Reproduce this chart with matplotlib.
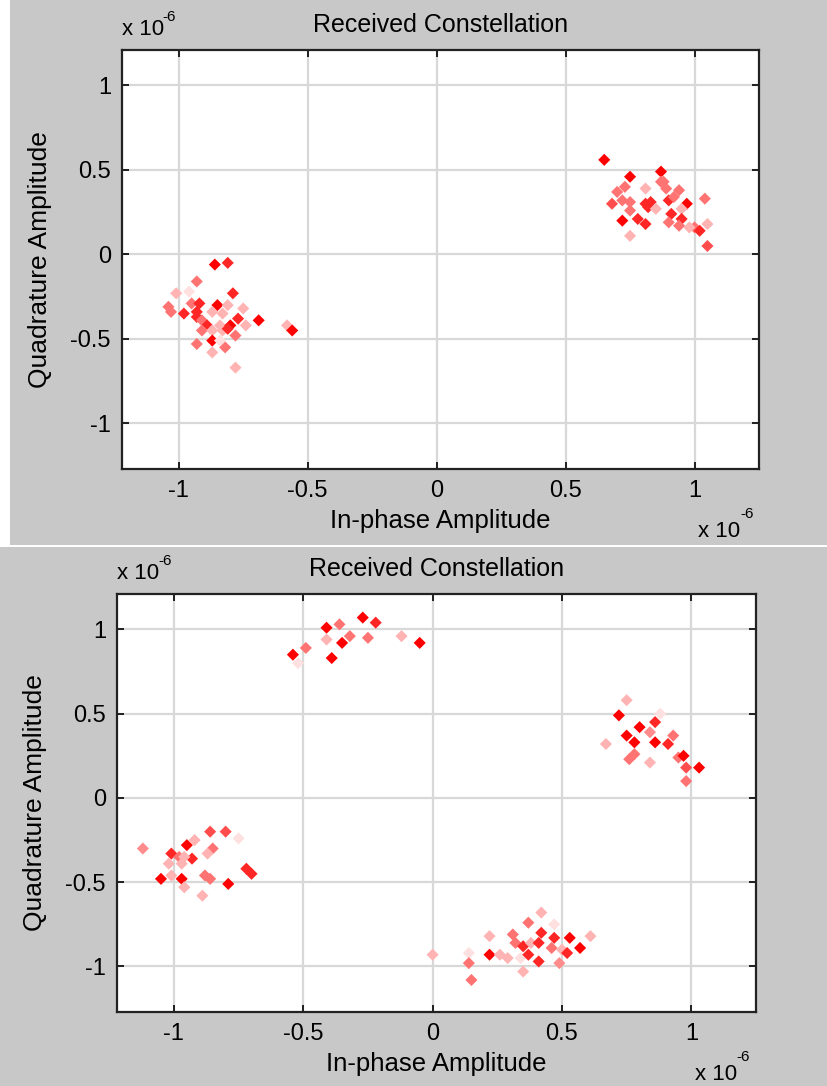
import numpy as np
import matplotlib
matplotlib.use("Agg")
from matplotlib import pyplot as plt
from matplotlib.patches import Rectangle

plt.rcParams['font.family'] = ['Liberation Sans', 'DejaVu Sans']

# Panel 1 (upper): received symbols, in-phase / quadrature (x 1e-6), and fade level
top_i = [0.65, 0.75, 0.87, 0.73, 0.70, 0.81, 0.88, 0.89, 0.94, 0.68, 0.72, 0.75,
         0.83, 0.82, 0.85, 0.90, 0.92, 0.97, 0.95, 1.04, 0.72, 0.78, 0.81, 0.75,
         0.91, 0.95, 0.90, 0.94, 1.00, 1.02, 1.05, 0.75, 1.05, 0.98, 0.81, 0.87,
         -0.86, -0.81, -0.93, -1.01, -0.96, -0.79, -1.04, -1.03, -0.98, -0.95, -0.92, -0.85,
         -0.81, -0.93, -0.93, -0.91, -0.87, -0.83, -0.75, -0.89, -0.84, -0.80, -0.77, -0.74,
         -0.69, -0.91, -0.87, -0.83, -0.78, -0.81, -0.58, -0.56, -0.87, -0.93, -0.82, -0.87,
         -0.78, -0.84]
top_q = [0.56, 0.46, 0.49, 0.40, 0.37, 0.39, 0.43, 0.39, 0.38, 0.30, 0.32, 0.31,
         0.31, 0.28, 0.27, 0.32, 0.34, 0.30, 0.27, 0.33, 0.20, 0.21, 0.18, 0.26,
         0.24, 0.21, 0.19, 0.17, 0.16, 0.14, 0.18, 0.11, 0.05, 0.16, 0.30, 0.43,
         -0.06, -0.05, -0.16, -0.23, -0.22, -0.23, -0.31, -0.34, -0.35, -0.29, -0.29, -0.30,
         -0.30, -0.34, -0.37, -0.39, -0.34, -0.35, -0.32, -0.42, -0.42, -0.42, -0.38, -0.42,
         -0.39, -0.45, -0.45, -0.45, -0.48, -0.44, -0.42, -0.45, -0.51, -0.53, -0.55, -0.58,
         -0.67, -0.51]
top_fade = [1.0, 1.0, 1.0, 0.55, 0.55, 0.3, 0.55, 0.55, 0.55, 0.7, 0.55, 0.55,
            0.85, 0.85, 0.3, 0.85, 0.55, 1.0, 0.3, 0.55, 1.0, 0.85, 0.85, 0.55,
            0.85, 0.85, 0.55, 0.55, 0.55, 0.85, 0.3, 0.3, 0.7, 0.3, 0.85, 0.55,
            1.0, 0.85, 0.55, 0.3, 0.12, 0.85, 0.55, 0.55, 0.85, 0.55, 0.85, 1.0,
            0.3, 0.85, 0.85, 0.55, 0.3, 0.3, 0.3, 0.85, 0.3, 1.0, 0.85, 0.3,
            1.0, 0.55, 0.3, 0.3, 0.55, 0.85, 0.3, 1.0, 1.0, 0.55, 0.55, 0.3,
            0.3, 0.12]

# Panel 2 (lower)
bot_i = [-0.54, -0.52, -0.49, -0.41, -0.41, -0.36, -0.32, -0.35, -0.39, -0.27, -0.22, -0.25,
         -0.12, -0.05,
         0.75, 0.72, 0.88, 0.86, 0.80, 0.84, 0.75, 0.78, 0.86, 0.91, 0.93, 0.67,
         0.78, 0.76, 0.84, 0.95, 0.97, 0.98, 1.03, 0.98,
         -1.12, -0.86, -0.80, -0.75, -0.92, -0.95, -0.85, -0.87, -1.01, -0.98, -0.93, -0.96,
         -1.02, -0.97, -0.72, -0.70, -1.05, -1.01, -0.97, -0.96, -0.88, -0.86, -0.79, -0.89,
         0.00, 0.14, 0.14, 0.15, 0.22, 0.22, 0.26, 0.29, 0.31, 0.32, 0.34, 0.35,
         0.37, 0.37, 0.38, 0.35, 0.41, 0.41, 0.42, 0.42, 0.47, 0.46, 0.47, 0.49,
         0.50, 0.52, 0.53, 0.57, 0.61]
bot_q = [0.85, 0.80, 0.89, 1.01, 0.94, 1.03, 0.96, 0.92, 0.83, 1.07, 1.04, 0.95,
         0.96, 0.92,
         0.58, 0.49, 0.50, 0.45, 0.42, 0.39, 0.37, 0.33, 0.33, 0.32, 0.37, 0.32,
         0.26, 0.23, 0.21, 0.24, 0.25, 0.18, 0.18, 0.10,
         -0.30, -0.20, -0.20, -0.24, -0.25, -0.28, -0.30, -0.33, -0.33, -0.35, -0.36, -0.35,
         -0.39, -0.39, -0.42, -0.45, -0.48, -0.46, -0.48, -0.53, -0.46, -0.48, -0.51, -0.58,
         -0.93, -0.92, -0.98, -1.08, -0.93, -0.82, -0.93, -0.95, -0.81, -0.86, -0.95, -0.88,
         -0.74, -0.93, -0.86, -1.03, -0.86, -0.97, -0.68, -0.80, -0.83, -0.89, -0.75, -0.98,
         -0.90, -0.92, -0.83, -0.89, -0.82]
bot_fade = [1.0, 0.12, 0.55, 1.0, 0.3, 0.55, 0.55, 1.0, 1.0, 1.0, 0.85, 0.55,
            0.3, 1.0,
            0.3, 1.0, 0.12, 0.85, 1.0, 0.45, 1.0, 1.0, 1.0, 0.85, 0.55, 0.3,
            0.55, 0.55, 0.3, 0.55, 1.0, 0.7, 1.0, 0.55,
            0.45, 0.7, 0.7, 0.12, 0.3, 1.0, 0.55, 0.3, 0.85, 0.55, 0.85, 0.3,
            0.3, 0.3, 0.85, 0.85, 1.0, 0.3, 1.0, 0.3, 0.55, 0.55, 1.0, 0.3,
            0.3, 0.12, 0.55, 0.55, 1.0, 0.3, 0.3, 0.3, 0.55, 0.55, 0.12, 0.85,
            0.55, 0.85, 0.3, 0.3, 0.85, 0.85, 0.3, 0.85, 0.85, 0.55, 0.12, 0.45,
            0.3, 0.85, 1.0, 1.0, 0.3]

ticks = [-1, -0.5, 0, 0.5, 1]
tick_labels = ['-1', '-0.5', '0', '0.5', '1']

W, H = 828, 1086
fig = plt.figure(figsize=(W / 100, H / 100), dpi=100)
fig.patch.set_facecolor('white')

# gray window backgrounds of the two stacked screenshots
fig.patches.append(Rectangle((10 / W, 1 - 545 / H), 1, 545 / H, transform=fig.transFigure,
                             facecolor='#c8c8c8', edgecolor='none', zorder=-5))
fig.patches.append(Rectangle((0, 0), 1, 1 - 547 / H, transform=fig.transFigure,
                             facecolor='#c8c8c8', edgecolor='none', zorder=-5))


def fade_colors(f):
    f = np.asarray(f)
    return np.column_stack([np.ones_like(f), 1 - f, 1 - f])


def panel(rect, xs, ys, fade):
    l, t, r, b = rect
    ax = fig.add_axes([l / W, 1 - b / H, (r - l) / W, (b - t) / H])
    ax.set_facecolor('white')
    ax.scatter(xs, ys, s=38, marker='D', c=fade_colors(fade), linewidths=0, zorder=3)
    ax.set_xlim(-1.22, 1.25)
    ax.set_ylim(-1.27, 1.21)
    ax.set_xticks(ticks)
    ax.set_yticks(ticks)
    ax.set_xticklabels(tick_labels)
    ax.set_yticklabels(tick_labels)
    ax.grid(True, color='#d8d8d8', linewidth=1.6, zorder=1)
    ax.set_axisbelow(True)
    ax.tick_params(direction='in', length=5, width=1.2, top=True, right=True,
                   labelsize=17, colors='black')
    ax.tick_params(axis='x', pad=8)
    ax.tick_params(axis='y', pad=8)
    for s in ax.spines.values():
        s.set_linewidth(1.6)
        s.set_color('#222222')
    ax.set_title('Received Constellation', fontsize=18, pad=13)
    ax.set_xlabel('In-phase Amplitude', fontsize=18.5, labelpad=5)
    ax.set_ylabel('Quadrature Amplitude', fontsize=19, labelpad=13)
    # exponent markers
    ax.text(0.0, 1.025, 'x 10', transform=ax.transAxes, fontsize=16, ha='left', va='bottom')
    ax.text(0.064, 1.062, '-6', transform=ax.transAxes, fontsize=11, ha='left', va='bottom')
    ax.text(0.905, -0.125, 'x 10', transform=ax.transAxes, fontsize=16, ha='left', va='top')
    ax.text(0.97, -0.09, '-6', transform=ax.transAxes, fontsize=11, ha='left', va='top')
    return ax


panel((122, 50, 759, 469), top_i, top_q, top_fade)
panel((117, 594, 756, 1012), bot_i, bot_q, bot_fade)

fig.savefig('out.png', dpi=100, facecolor=fig.get_facecolor())
